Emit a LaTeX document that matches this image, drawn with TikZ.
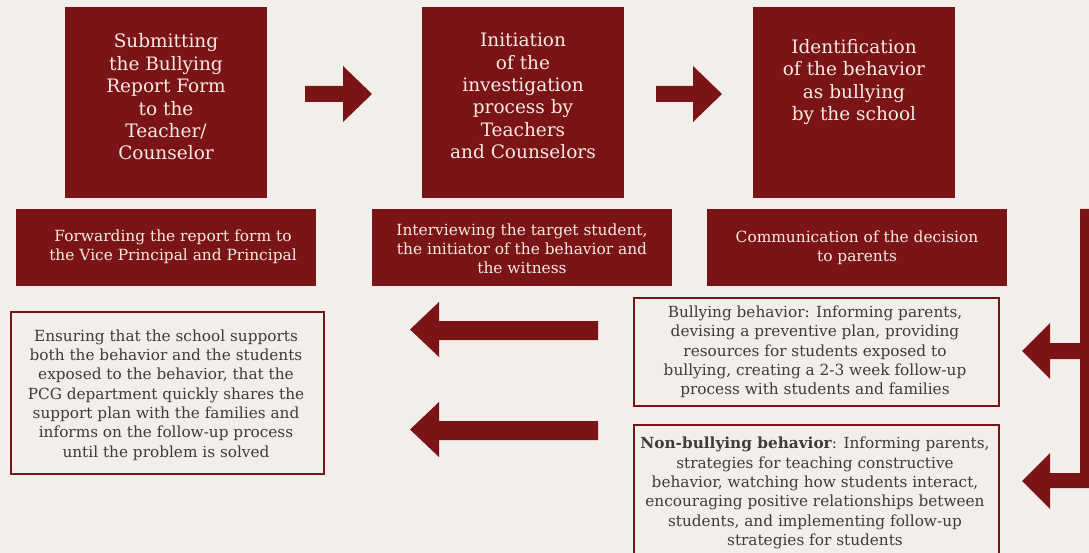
\documentclass[tikz,border=0pt]{standalone}
\usepackage{fontspec}
\setmainfont{DejaVu Serif}
\definecolor{bg}{HTML}{F2EEEA}
\definecolor{dred}{HTML}{7B1416}
\definecolor{cream}{HTML}{F6EAE2}
\definecolor{ink}{HTML}{3C3C3C}
\begin{document}
\begin{tikzpicture}[x=1pt,y=-1pt,
  redbox/.style={fill=dred,draw=none,anchor=north west,inner sep=0pt},
  linebox/.style={fill=bg,draw=dred,line width=2pt,anchor=north west,inner sep=0pt},
  toptext/.style={text=cream,align=center,font=\fontsize{18.5}{22.4}\selectfont,inner sep=0pt},
  midtext/.style={text=cream,align=center,font=\fontsize{15.4}{19}\selectfont,inner sep=0pt},
  lowtext/.style={text=ink,align=center,font=\fontsize{15.3}{19.3}\selectfont,inner sep=0pt},
  blockarrow/.style={fill=dred,draw=none}]
\useasboundingbox (0,0) rectangle (1089,553);
\fill[bg] (0,0) rectangle (1089,553);

% top boxes
\node[redbox,minimum width=202pt,minimum height=191pt] (b1) at (65,7) {};
\node[redbox,minimum width=202pt,minimum height=191pt] (b2) at (422,7) {};
\node[redbox,minimum width=202pt,minimum height=191pt] (b3) at (753,7) {};
\node[toptext] (t1) at (166,97) {Submitting\\the Bullying\\Report Form\\to the\\Teacher/\\Counselor};
\node[toptext] (t2) at (523,96) {Initiation\\of the\\investigation\\process by\\Teachers\\and Counselors};
\node[toptext] (t3) at (854,82) {Identification\\of the behavior\\as bullying\\by the school};

% second row
\node[redbox,minimum width=300pt,minimum height=77pt] (c1) at (16,209) {};
\node[redbox,minimum width=300pt,minimum height=77pt] (c2) at (372,209) {};
\node[redbox,minimum width=300pt,minimum height=77pt] (c3) at (707,209) {};
\node[midtext] (s1) at (173,247) {Forwarding the report form to\\the Vice Principal and Principal};
\node[midtext] (s2) at (522,249) {Interviewing the target student,\\the initiator of the behavior and\\the witness};
\node[midtext] (s3) at (857,248) {Communication of the decision\\to parents};

% outlined boxes
\node[linebox,minimum width=313pt,minimum height=162pt] (l1) at (10,311) {};
\node[linebox,minimum width=365pt,minimum height=108pt] (r1) at (633,297) {};
\node[linebox,minimum width=365pt,minimum height=132pt] (r2) at (633,424) {};
\node[lowtext] (lt) at (166,395) {Ensuring that the school supports\\both the behavior and the students\\exposed to the behavior, that the\\PCG department quickly shares the\\support plan with the families and\\informs on the follow-up process\\until the problem is solved};
\node[lowtext] (rt1) at (815,352) {Bullying behavior: Informing parents,\\devising a preventive plan, providing\\resources for students exposed to\\bullying, creating a 2-3 week follow-up\\process with students and families};
\node[lowtext] (rt2) at (815,493) {\textbf{Non-bullying behavior}: Informing parents,\\strategies for teaching constructive\\behavior, watching how students interact,\\encouraging positive relationships between\\students, and implementing follow-up\\strategies for students};

% right-pointing block arrows
\fill[blockarrow] (305,86) -- (343,86) -- (343,66) -- (372,94) -- (343,122) -- (343,102) -- (305,102) -- cycle;
\fill[blockarrow] (656,86) -- (693,86) -- (693,66) -- (722,94) -- (693,122) -- (693,102) -- (656,102) -- cycle;

% left-pointing block arrows
\fill[blockarrow] (598,321) -- (439,321) -- (439,302) -- (410,329.5) -- (439,357) -- (439,340) -- (598,340) -- cycle;
\fill[blockarrow] (598,421) -- (439,421) -- (439,402) -- (410,429.5) -- (439,457) -- (439,440) -- (598,440) -- cycle;

% right bracket with two arrows
\fill[blockarrow] (1095,209) -- (1080,209) -- (1080,343) -- (1050,343) -- (1050,323) -- (1022,351) -- (1050,379) -- (1050,359) -- (1080,359)
  -- (1080,473) -- (1050,473) -- (1050,453) -- (1022,481) -- (1050,509) -- (1050,488) -- (1095,488) -- cycle;
\end{tikzpicture}
\end{document}
